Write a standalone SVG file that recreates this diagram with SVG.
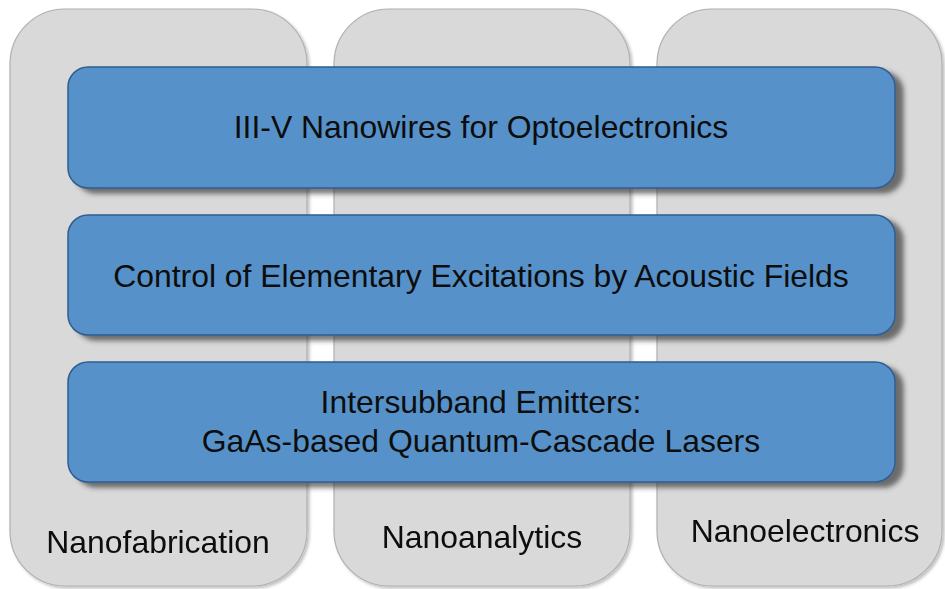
<svg xmlns="http://www.w3.org/2000/svg" width="945" height="589" viewBox="0 0 945 589">
<style>
.col{fill:#d9d9d9;stroke:#b0b0b0;stroke-width:1.2}
.bar{fill:#5792c9;stroke:#2f5d90;stroke-width:1.5}
.t{font-family:"Liberation Sans",Arial,sans-serif;font-size:31.9px;fill:#0d0d0d;text-anchor:middle}
</style>
<defs>
<filter id="cs" x="-10%" y="-10%" width="125%" height="125%">
<feDropShadow dx="2" dy="2" stdDeviation="1.5" flood-color="#000" flood-opacity="0.25"/>
</filter>
<filter id="bs" x="-5%" y="-20%" width="112%" height="150%">
<feDropShadow dx="8" dy="5" stdDeviation="2.5" flood-color="#333" flood-opacity="0.65"/>
</filter>
</defs>
<rect width="945" height="589" fill="#ffffff"/>
<g id="col-nanofabrication" filter="url(#cs)">
<rect class="col" x="10" y="9" width="297" height="577" rx="55"/>
<text class="t" x="158" y="553">Nanofabrication</text>
</g>
<g id="col-nanoanalytics" filter="url(#cs)">
<rect class="col" x="334" y="9" width="296" height="577" rx="55"/>
<text class="t" x="482" y="548">Nanoanalytics</text>
</g>
<g id="col-nanoelectronics" filter="url(#cs)">
<rect class="col" x="657" y="9" width="285" height="577" rx="55"/>
<text class="t" x="805" y="542">Nanoelectronics</text>
</g>
<g id="bar-nanowires">
<rect class="bar" x="68" y="67" width="827" height="121" rx="20" filter="url(#bs)"/>
<text class="t" x="481" y="138">III-V Nanowires for Optoelectronics</text>
</g>
<g id="bar-acoustic">
<rect class="bar" x="68" y="215" width="827" height="120" rx="20" filter="url(#bs)"/>
<text class="t" x="481" y="287">Control of Elementary Excitations by Acoustic Fields</text>
</g>
<g id="bar-intersubband">
<rect class="bar" x="68" y="362" width="827" height="120" rx="20" filter="url(#bs)"/>
<text class="t" x="481" y="413">Intersubband Emitters:</text>
<text class="t" x="481" y="452">GaAs-based Quantum-Cascade Lasers</text>
</g>
<g id="connectors"/>
</svg>
